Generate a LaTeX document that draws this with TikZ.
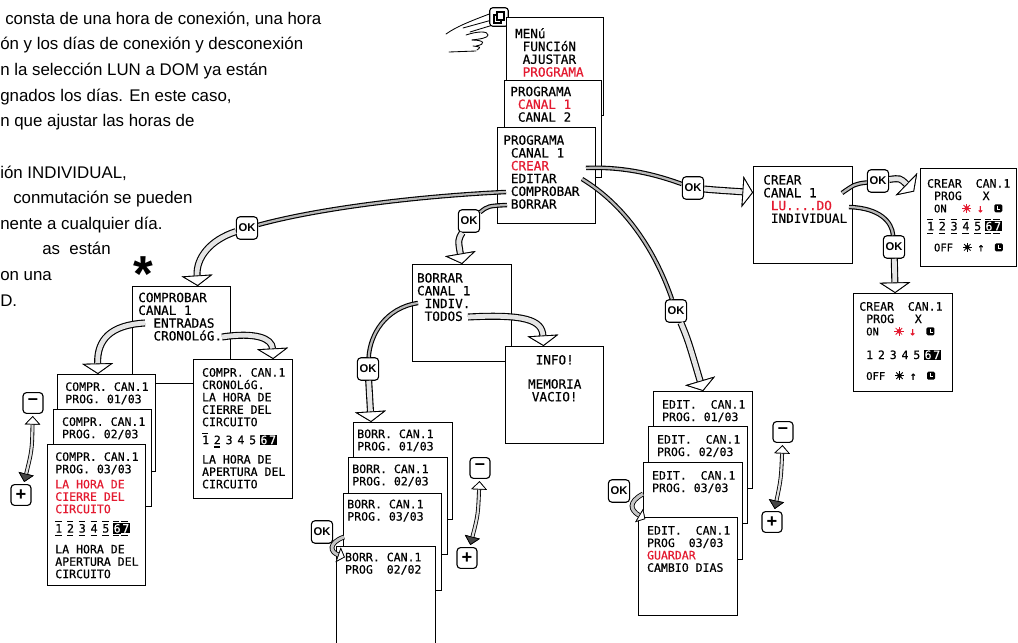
\documentclass[tikz,border=0pt]{standalone}
\usepackage{fontspec}
\setmainfont{Liberation Sans}
\newfontfamily\lcdfont[FakeBold=0.5]{DejaVu Sans Mono}
\usetikzlibrary{arrows.meta,positioning}

\definecolor{lcdred}{RGB}{228,26,48}

\newcommand{\rd}[1]{\textcolor{lcdred}{#1}}
\newcommand{\dayon}[1]{{\setlength{\fboxsep}{0.6pt}\colorbox{black}{\textcolor{white}{#1}}}}
\newcommand{\topbar}{\rlap{\raisebox{0.88em}{\rule{0.55em}{0.8pt}}}}
\newcommand{\lowbar}{\rlap{\raisebox{-0.3em}{\rule{0.55em}{0.8pt}}}}
\newcommand{\dmark}[1]{\topbar\lowbar#1}
\newcommand{\weekmarks}{\dmark1\hspace{.42em}\dmark2\hspace{.42em}\dmark3\hspace{.42em}\dmark4\hspace{.42em}\dmark5\hspace{.3em}\dmark{\dayon6}\dmark{\dayon7}}
\newcommand{\weekplain}{1\hspace{.42em}2\hspace{.42em}3\hspace{.42em}4\hspace{.42em}5\hspace{.3em}\dayon6\dayon7}
\newcommand{\sunmark}[1]{\tikz[baseline=-0.65ex]{\fill[#1] (0,0) circle (0.55mm);
    \foreach \a in {0,45,...,315} \draw[#1, line width=0.6pt] (\a:0.4mm) -- (\a:1.15mm);}}
\newcommand{\clockmark}{\tikz[baseline=-0.65ex]{\fill[rounded corners=0.35mm] (-1mm,-1mm) rectangle (1mm,1mm);
    \draw[white, line width=0.5pt] (-0.15mm,0.6mm) -- (-0.15mm,-0.15mm) -- (0.55mm,-0.15mm);}}

\begin{document}
\begin{tikzpicture}[x=0.025cm, y=-0.025cm,
  bodytext/.style={anchor=base west, inner sep=0pt, font=\fontsize{12}{14}\selectfont},
  screen/.style={draw, fill=white, line width=0.7pt, anchor=north west, inner sep=0pt,
    minimum width=2.46cm, minimum height=2.42cm},
  lcd/.style={font=\lcdfont\fontsize{9}{9.1}\selectfont, align=left, inner sep=0pt},
  lcdsmall/.style={font=\lcdfont\fontsize{8.2}{8.8}\selectfont, align=left, inner sep=0pt},
  okkey/.style={draw, fill=white, line width=0.8pt, rounded corners=2.5pt, inner sep=0pt,
    minimum width=0.53cm, minimum height=0.56cm, font=\bfseries\fontsize{8}{8}\selectfont},
  pmkey/.style={draw, fill=white, line width=0.8pt, rounded corners=2.5pt, inner sep=0pt,
    minimum width=0.5cm, minimum height=0.52cm, font=\bfseries\fontsize{13}{13}\selectfont},
  hand/.style={line width=0.6pt, line cap=round},
  feed/.style={line width=1.6pt, draw=gray!55, preaction={draw=black, line width=3.2pt}},
  band/.style={line width=3.4pt, draw=gray!20, preaction={draw=black, line width=5pt},
    -{Triangle[open, fill=white, color=black, width=22pt, length=7.5pt, line width=0.6pt]}},
  hook/.style={line width=2.2pt, draw=gray!45, preaction={draw=black, line width=3.4pt},
    -{Triangle[open, fill=white, color=black, width=11pt, length=5pt, line width=0.5pt]}},
  twoway/.style={line width=1.6pt, draw=gray!25, preaction={draw=black, line width=2.8pt},
    arrows={Triangle[open, fill=white, color=black, width=11pt, length=6pt, line width=0.5pt]-Triangle[fill=gray!55!black, color=black, width=11pt, length=6pt, line width=0.5pt]},
    shorten <=1.5pt, shorten >=1.5pt}
]
  \useasboundingbox (0,0) rectangle (1018,643);

  % text cut off at the left edge
  \foreach \x/\y/\t [count=\i] in {5/24.4/{consta de una hora de conexión, una hora},
      0/50/{ón y los días de conexión y desconexión},
      0/75.6/{n la selección LUN a DOM ya están},
      0/101.2/{gnados los días. En este caso,},
      0/126.8/{n que ajustar las horas de},
      0/178/{ión INDIVIDUAL,},
      13/203.6/{conmutación se pueden},
      0/229.2/{nente a cualquier día.},
      42/254.8/{as~~están},
      0/280.4/{on una},
      0/306/{D.}}
    \node[bodytext] (txt\i) at (\x,\y) {\t};
  \node[anchor=south, inner sep=0pt, font=\bfseries\fontsize{36}{36}\selectfont] (star) at (143,272) {\raisebox{-0.4em}[0.33em][0pt]{*}};

  % hand pressing the menu key
  \draw[hand] (446,34) .. controls (456,27) and (468,22) .. (492,13);
  \draw[hand] (463,28) -- (492,20);
  \draw[hand] (470,32) -- (493,25);
  \draw[hand] (466,35) .. controls (478,31) and (488,31) .. (488,35) .. controls (488,38) and (480,39) .. (472,40);
  \draw[hand] (472,40) .. controls (484,40) and (487,44) .. (476,46);
  \draw[hand] (473,46) .. controls (481,47) .. (477,50);
  \draw[hand] (449,52) -- (476,51);
  \node[draw, fill=white, line width=0.8pt, rounded corners=2pt, inner sep=0pt, minimum size=0.46cm] (menukey) at (499,17) {};
  \draw[line width=0.8pt] (494,15) rectangle (501,23);
  \draw[line width=0.8pt, fill=white] (497,12) rectangle (504,20);

  % menu screens
  \node[screen, minimum width=2.43cm, minimum height=2.45cm] (menu) at (506,17) {};
  \node[lcd, below right=.27cm and .22cm of menu.north west] (menutxt) {MENú\\~FUNCIóN\\~AJUSTAR\\~\rd{PROGRAMA}};
  \node[screen, minimum width=2.43cm] (canales) at (504,80) {};
  \node[lcd, below right=.16cm and .15cm of canales.north west] (canalestxt) {PROGRAMA\\~\rd{CANAL 1}\\~CANAL 2};
  \node[screen, minimum width=2.45cm, minimum height=2.4cm] (prog) at (497,127) {};
  \node[lcd, below right=.2cm and .15cm of prog.north west] (progtxt) {PROGRAMA\\~CANAL 1\\~\rd{CREAR}\\~EDITAR\\~COMPROBAR\\~BORRAR};

  % CREAR
  \node[screen, minimum width=2.48cm] (crear) at (753,166) {};
  \node[lcd, below right=.22cm and .25cm of crear.north west] (creartxt) {CREAR\\CANAL 1\\~\rd{LU....DO}\\~INDIVIDUAL};
  \node[screen, minimum width=2.4cm, minimum height=2.45cm] (crearA) at (920,168) {};
  \node[lcdsmall, below right=.27cm and .17cm of crearA.north west] (crearAtxt) {CREAR~~CAN.1\\~PROG~~~X\\
    \hspace*{0.6em}{\fontsize{7.5}{7.5}\selectfont ON}\hspace{1.3em}\sunmark{lcdred}\hspace{0.45em}\rd{↓}\hspace{0.9em}\clockmark\\[4pt]
    \weekmarks\\[5pt]
    \hspace*{0.6em}{\fontsize{7.5}{7.5}\selectfont OFF}\hspace{0.8em}\sunmark{black}\hspace{0.45em}↑\hspace{0.9em}\clockmark};
  \node[screen, minimum width=2.48cm, minimum height=2.45cm] (crearB) at (853,293) {};
  \node[lcdsmall, below right=.22cm and .15cm of crearB.north west] (crearBtxt) {CREAR~~CAN.1\\~PROG~~~X\\
    \hspace*{0.6em}{\fontsize{7.5}{7.5}\selectfont ON}\hspace{1.3em}\sunmark{lcdred}\hspace{0.45em}\rd{↓}\hspace{0.9em}\clockmark\\[8pt]
    \hspace*{0.6em}\weekplain\\[6pt]
    \hspace*{0.6em}{\fontsize{7.5}{7.5}\selectfont OFF}\hspace{0.8em}\sunmark{black}\hspace{0.45em}↑\hspace{0.9em}\clockmark};

  % COMPROBAR
  \node[screen] (comprobar) at (132,286) {};
  \node[lcd, below right=.16cm and .15cm of comprobar.north west] (comprobartxt) {COMPROBAR\\CANAL 1\\~~ENTRADAS\\~~CRONOLóG.};
  \node[screen] (compr1) at (57,374) {};
  \node[lcdsmall, below right=.2cm and .2cm of compr1.north west] (compr1txt) {COMPR.~CAN.1\\PROG.~01/03};
  \node[screen] (compr2) at (53,409) {};
  \node[lcdsmall, below right=.2cm and .22cm of compr2.north west] (compr2txt) {COMPR.~CAN.1\\PROG.~02/03};
  \node[screen, minimum height=3.53cm] (compr3) at (47,444) {};
  \node[lcdsmall, below right=.2cm and .2cm of compr3.north west] (compr3txt) {COMPR.~CAN.1\\PROG.~03/03\\[2pt]
    \rd{LA HORA DE}\\\rd{CIERRE DEL}\\\rd{CIRCUITO}\\[5pt]\weekmarks\\[6pt]LA HORA DE\\APERTURA DEL\\CIRCUITO};
  \node[screen, minimum width=2.48cm, minimum height=3.48cm] (cronolog) at (193,359) {};
  \node[lcdsmall, below right=.22cm and .22cm of cronolog.north west] (cronologtxt) {COMPR.~CAN.1\\CRONOLóG.\\LA HORA DE\\CIERRE DEL\\CIRCUITO\\[4pt]
    \topbar1\hspace{.42em}\lowbar2\hspace{.42em}3\hspace{.42em}4\hspace{.42em}5\hspace{.3em}\dayon6\dayon7\\[5pt]LA HORA DE\\APERTURA DEL\\CIRCUITO};

  % BORRAR
  \node[screen, minimum width=2.48cm] (borrar) at (412,264) {};
  \node[lcd, below right=.22cm and .12cm of borrar.north west] (borrartxt) {BORRAR\\CANAL 1\\~INDIV.\\~TODOS};
  \node[screen] (info) at (505,346) {};
  \node[lcd, align=center, below=.22cm of info.north] (infotxt) {INFO!\\[8pt]MEMORIA\\VACIO!};
  \node[screen, minimum width=2.48cm] (borr1) at (353,422) {};
  \node[lcdsmall, below right=.18cm and .1cm of borr1.north west] (borr1txt) {BORR.~CAN.1\\PROG.~01/03};
  \node[screen, minimum width=2.48cm] (borr2) at (348,457) {};
  \node[lcdsmall, below right=.18cm and .1cm of borr2.north west] (borr2txt) {BORR.~CAN.1\\PROG.~02/03};
  \node[screen] (borr3) at (343,493) {};
  \node[lcdsmall, below right=.16cm and .1cm of borr3.north west] (borr3txt) {BORR.~CAN.1\\PROG.~03/03};
  \node[screen, minimum width=2.48cm, minimum height=2.9cm] (borr4) at (336,546) {};
  \node[lcdsmall, below right=.16cm and .22cm of borr4.north west] (borr4txt) {BORR.~CAN.1\\PROG~~02/02};

  % EDITAR
  \node[screen, minimum width=2.48cm] (edit1) at (653,391) {};
  \node[lcdsmall, below right=.22cm and .22cm of edit1.north west] (edit1txt) {EDIT.~~CAN.1\\PROG.~01/03};
  \node[screen, minimum width=2.48cm] (edit2) at (648,426) {};
  \node[lcdsmall, below right=.22cm and .22cm of edit2.north west] (edit2txt) {EDIT.~~CAN.1\\PROG.~02/03};
  \node[screen, minimum width=2.48cm] (edit3) at (643,462) {};
  \node[lcdsmall, below right=.22cm and .22cm of edit3.north west] (edit3txt) {EDIT.~~CAN.1\\PROG.~03/03};
  \node[screen, minimum width=2.48cm, minimum height=2.45cm] (edit4) at (638,517) {};
  \node[lcdsmall, below right=.22cm and .22cm of edit4.north west] (edit4txt) {EDIT.~~CAN.1\\PROG~~03/03\\\rd{GUARDAR}\\CAMBIO DIAS};

  % keys
  \node[okkey] (ok1) at (247,228) {OK};
  \node[okkey] (ok2) at (693,188) {OK};
  \node[okkey] (ok3) at (676,311) {OK};
  \node[okkey] (ok4) at (469,221) {OK};
  \node[okkey] (ok5) at (878,181) {OK};
  \node[okkey] (ok6) at (894,247) {OK};
  \node[okkey] (ok7) at (368,369) {OK};
  \node[okkey] (ok8) at (322,532) {OK};
  \node[okkey] (ok9) at (619,491) {OK};
  \node[pmkey] (minus1) at (33,403) {\raisebox{.12em}{--}};
  \node[pmkey] (plus1) at (21,495) {+};
  \node[pmkey] (minus2) at (480,468) {\raisebox{.12em}{--}};
  \node[pmkey] (plus2) at (467,558) {+};
  \node[pmkey] (minus3) at (783,432) {\raisebox{.12em}{--}};
  \node[pmkey] (plus3) at (772,522) {+};

  % where the lines leave the screens
  \coordinate (fromcrear) at (586,168);
  \coordinate (fromedit) at (582,179);
  \coordinate (fromcomp) at (506,192);
  \coordinate (fromborr) at (507,205);
  \coordinate (fromcanal) at (842,193);
  \coordinate (fromindiv) at (849,207);
  \coordinate (fromentr) at (145,323);
  \coordinate (fromcron) at (222,337);
  \coordinate (fromindv) at (418,303);
  \coordinate (fromtodos) at (468,317);
  \coordinate (fromb3) at (344,537);
  \coordinate (frome3) at (643,494);

  % connectors
  \draw[feed] (fromcomp) .. controls (420,196) and (320,208) .. (ok1);
  \draw[band] (ok1) .. controls (210,240) and (196,258) .. ([xshift=0.4cm]comprobar.north);
  \draw[feed] (fromcrear) .. controls (630,166) and (665,178) .. (ok2);
  \draw[band] (ok2) .. controls (715,190) .. ([yshift=0.56cm]crear.west);
  \draw[feed] (fromedit) .. controls (625,205) and (655,250) .. (ok3);
  \draw[band] (ok3) .. controls (688,340) .. (edit1.north);
  \draw[feed] (fromborr) .. controls (488,206) .. (ok4);
  \draw[band] (ok4) .. controls (458,240) .. (borrar.north);
  \draw[feed] (fromcanal) .. controls (855,184) .. (ok5);
  \draw[band] (ok5) .. controls (900,178) .. ([shift={(-0.15cm,0.65cm)}]crearA.west);
  \draw[feed] (fromindiv) .. controls (880,208) and (892,222) .. (ok6);
  \draw[band] (ok6) -- ([xshift=-0.2cm]crearB.north);
  \draw[band] (fromentr) .. controls (110,325) and (97,340) .. ([xshift=-0.22cm]compr1.north);
  \draw[band] (fromcron) .. controls (255,332) and (272,338) .. ([xshift=0.75cm]cronolog.north);
  \draw[feed] (fromindv) .. controls (385,308) and (370,335) .. (ok7);
  \draw[band] (ok7) -- ([xshift=-0.8cm]borr1.north);
  \draw[band] (fromtodos) .. controls (525,314) and (542,320) .. ([xshift=-0.28cm]info.north);
  \draw[hook] (fromb3) .. controls (328,543) and (330,552) .. ([shift={(0.22cm,-0.28cm)}]borr4.north west);
  \draw[hook] (frome3) .. controls (628,502) and (630,510) .. ([shift={(0.18cm,-0.05cm)}]edit4.north west);

  % up and down between the programs
  \draw[twoway] (minus1) .. controls (32,450) .. (plus1);
  \draw[twoway] (minus2) .. controls (478,515) .. (plus2);
  \draw[twoway] (minus3) .. controls (781,479) .. (plus3);
\end{tikzpicture}
\end{document}
